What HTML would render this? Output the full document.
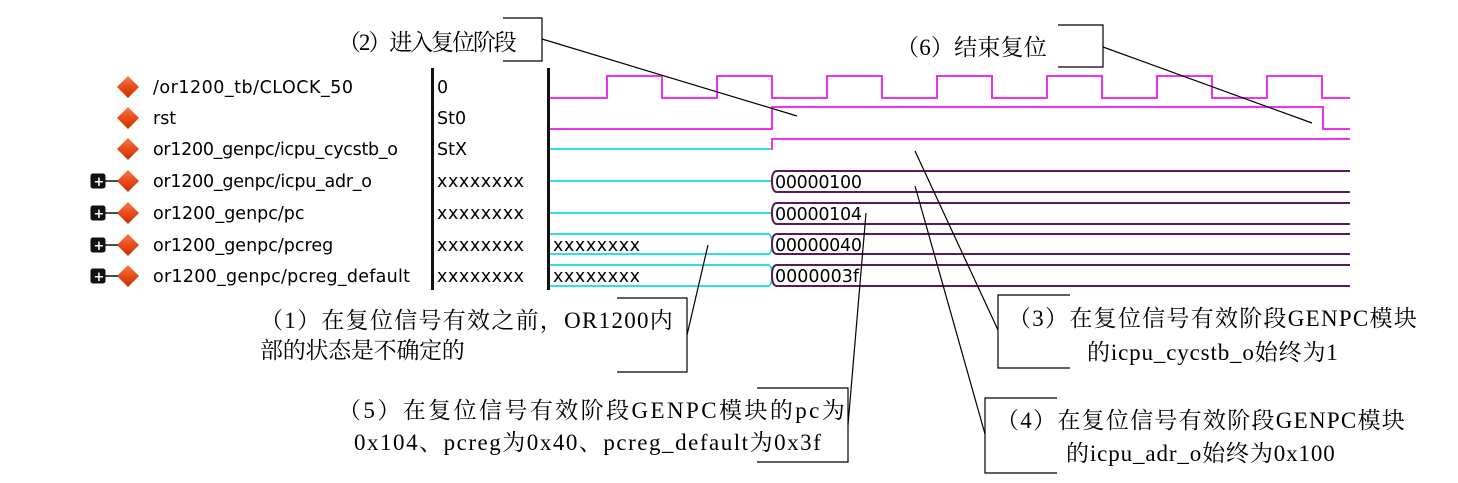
<!DOCTYPE html>
<html><head><meta charset="utf-8"><style>
html,body{margin:0;padding:0;background:#fff;}
svg{display:block;}
.lbl{font-family:"DejaVu Sans","Liberation Sans",sans-serif;font-size:17.5px;fill:#000;}
.val{font-family:"DejaVu Sans","Liberation Sans",sans-serif;font-size:17.5px;fill:#000;}
.ann{font-family:"Liberation Serif","Noto Serif CJK SC",serif;font-size:23px;fill:#000;letter-spacing:1.2px;}
</style></head><body>
<svg width="1458" height="483" viewBox="0 0 1458 483" xmlns="http://www.w3.org/2000/svg">
<defs>
<linearGradient id="dg" x1="0" y1="0" x2="0" y2="1">
<stop offset="0" stop-color="#f08050"/><stop offset="0.5" stop-color="#e84a18"/><stop offset="1" stop-color="#c83000"/>
</linearGradient>
</defs>
<rect width="1458" height="483" fill="#fff"/>

<g>
<polygon points="128,76 139,87 128,98 117,87" fill="url(#dg)"/>
<polygon points="128,107 139,118 128,129 117,118" fill="url(#dg)"/>
<polygon points="128,138 139,149 128,160 117,149" fill="url(#dg)"/>
<polygon points="128,170 139,181 128,192 117,181" fill="url(#dg)"/>
<polygon points="128,202 139,213 128,224 117,213" fill="url(#dg)"/>
<polygon points="128,234 139,245 128,256 117,245" fill="url(#dg)"/>
<polygon points="128,265 139,276 128,287 117,276" fill="url(#dg)"/>
</g>
<g fill="#111" stroke="#111">
<rect x="91" y="174" width="14" height="14" rx="2"/><line x1="105" y1="181" x2="118" y2="181" stroke-width="1.5"/>
<rect x="91" y="206" width="14" height="14" rx="2"/><line x1="105" y1="213" x2="118" y2="213" stroke-width="1.5"/>
<rect x="91" y="238" width="14" height="14" rx="2"/><line x1="105" y1="245" x2="118" y2="245" stroke-width="1.5"/>
<rect x="91" y="269" width="14" height="14" rx="2"/><line x1="105" y1="276" x2="118" y2="276" stroke-width="1.5"/>
</g>
<g fill="#fff" font-family="DejaVu Sans,sans-serif" font-size="13" font-weight="bold">
<text x="93.5" y="186">+</text><text x="93.5" y="218">+</text><text x="93.5" y="250">+</text><text x="93.5" y="281">+</text>
</g>

<g class="lbl">
<text x="153" y="93" textLength="200">/or1200_tb/CLOCK_50</text>
<text x="153" y="124">rst</text>
<text x="153" y="155" textLength="245">or1200_genpc/icpu_cycstb_o</text>
<text x="153" y="187" textLength="219">or1200_genpc/icpu_adr_o</text>
<text x="153" y="219">or1200_genpc/pc</text>
<text x="153" y="251">or1200_genpc/pcreg</text>
<text x="153" y="282" textLength="257">or1200_genpc/pcreg_default</text>
</g>
<rect x="431" y="68" width="3" height="222" fill="#111"/>
<g class="val">
<text x="437" y="93">0</text>
<text x="437" y="124">St0</text>
<text x="437" y="155">StX</text>
<text x="437" y="187" textLength="87">xxxxxxxx</text>
<text x="437" y="219" textLength="87">xxxxxxxx</text>
<text x="437" y="251" textLength="87">xxxxxxxx</text>
<text x="437" y="282" textLength="87">xxxxxxxx</text>
</g>
<rect x="547" y="68" width="3" height="222" fill="#111"/>

<g fill="none" stroke-width="2">
<polyline stroke="#f030f0" points="550,98 607,98 607,76 662,76 662,98 717,98 717,76 772,76 772,98 827,98 827,76 882,76 882,98 937,98 937,76 992,76 992,98 1047,98 1047,76 1102,76 1102,98 1157,98 1157,76 1212,76 1212,98 1267,98 1267,76 1322,76 1322,98 1350,98"/>
<polyline stroke="#f030f0" points="550,129 772,129 772,107 1323,107 1323,129 1350,129"/>
<polyline stroke="#30e0e0" points="550,149 772,149"/>
<polyline stroke="#f030f0" points="772,150 772,139 1350,139"/>
<line stroke="#30e0e0" x1="550" y1="181" x2="772" y2="181"/>
<line stroke="#30e0e0" x1="550" y1="213" x2="772" y2="213"/>
<path stroke="#30e0e0" d="M550,234 H768 Q772,234 772,244 Q772,254 768,254 H550"/>
<path stroke="#30e0e0" d="M550,265 H768 Q772,265 772,275 Q772,286 768,286 H550"/>
<g stroke="#5a1a5a">
<path d="M1350,171 H777 Q772,171 772,181 Q772,192 777,192 H1350"/>
<path d="M1350,203 H777 Q772,203 772,213 Q772,224 777,224 H1350"/>
<path d="M1350,234 H777 Q772,234 772,244 Q772,254 777,254 H1350"/>
<path d="M1350,265 H777 Q772,265 772,275 Q772,286 777,286 H1350"/>
</g>
</g>
<g class="val">
<text x="775" y="188" textLength="87">00000100</text>
<text x="775" y="220" textLength="87">00000104</text>
<text x="775" y="251" textLength="87">00000040</text>
<text x="775" y="282" textLength="84">0000003f</text>
<text x="553" y="251" textLength="87">xxxxxxxx</text>
<text x="553" y="282" textLength="87">xxxxxxxx</text>
</g>

<g fill="none" stroke="#000" stroke-width="1.2">
<polyline points="503,18 542,18 542,61 503,61"/>
<line x1="542" y1="39" x2="797" y2="116"/>
<polyline points="1058,25 1103,25 1103,67 1058,67"/>
<line x1="1103" y1="47" x2="1312" y2="123"/>
<polyline points="617,298 687,298 687,372 617,372"/>
<line x1="687" y1="335" x2="708" y2="245"/>
<polyline points="757,388 848,388 848,462 757,462"/>
<line x1="848" y1="425" x2="866" y2="213"/>
<polyline points="1070,295 998,295 998,368 1070,368"/>
<line x1="998" y1="330" x2="915" y2="151"/>
<polyline points="1057,398 985,398 985,473 1057,473"/>
<line x1="985" y1="434" x2="915" y2="186"/>
</g>

<g class="ann">
<text x="338" y="50" textLength="180">（2）进入复位阶段</text>
<text x="896" y="55" textLength="152">（6）结束复位</text>
<text x="260" y="328" textLength="414">（1）在复位信号有效之前，OR1200内</text>
<text x="260" y="358" textLength="206">部的状态是不确定的</text>
<text x="338" y="418" textLength="508">（5）在复位信号有效阶段GENPC模块的pc为</text>
<text x="354" y="450" textLength="468">0x104、pcreg为0x40、pcreg_default为0x3f</text>
<text x="1008" y="326" textLength="410">（3）在复位信号有效阶段GENPC模块</text>
<text x="1087" y="360" textLength="252">的icpu_cycstb_o始终为1</text>
<text x="996" y="428" textLength="410">（4）在复位信号有效阶段GENPC模块</text>
<text x="1066" y="461" textLength="270">的icpu_adr_o始终为0x100</text>
</g>
</svg>
</body></html>
